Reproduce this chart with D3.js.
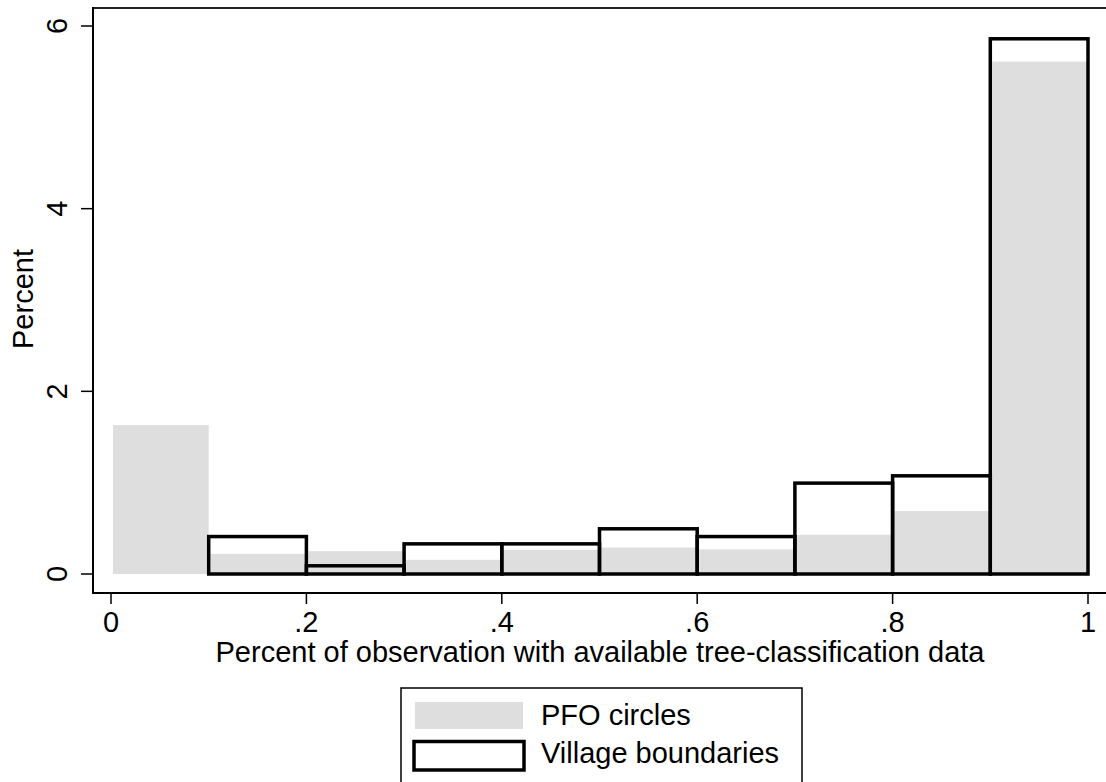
<!DOCTYPE html>
<html>
<head>
<meta charset="utf-8">
<script src="https://cdn.jsdelivr.net/npm/d3@7"></script>
<style>
  html, body { margin: 0; padding: 0; background: #fff; }
  svg { display: block; }
  text { font-family: "Liberation Sans", Arial, Helvetica, sans-serif; fill: #000; }
</style>
</head>
<body>
<svg id="chart" width="1106" height="782"></svg>
<script>
// ---- data ----
const binStarts = [0, 0.1, 0.2, 0.3, 0.4, 0.5, 0.6, 0.7, 0.8, 0.9];
const binWidth = 0.1;
const pfoCircles = [1.63, 0.22, 0.25, 0.155, 0.265, 0.29, 0.27, 0.43, 0.69, 5.61];
const villageBoundaries = [0, 0.41, 0.09, 0.33, 0.33, 0.495, 0.41, 0.995, 1.075, 5.86];
const xTicks = [0, 0.2, 0.4, 0.6, 0.8, 1];
const xTickLabels = ["0", ".2", ".4", ".6", ".8", "1"];
const yTicks = [0, 2, 4, 6];
const yTickLabels = ["0", "2", "4", "6"];
const seriesNames = ["PFO circles", "Village boundaries"];
const xTitle = "Percent of observation with available tree-classification data";
const yTitle = "Percent";

// ---- layout ----
const svg = d3.select("#chart");
const FS = 29;
const frame = { left: 93, top: 8, right: 1106, bottom: 593 };
const x = d3.scaleLinear().domain([0, 1]).range([111, 1088]);
const y = d3.scaleLinear().domain([0, 6]).range([574, 26]);
const grey = "#dedede";

// PFO bars (filled grey)
svg.append("g").selectAll("rect")
  .data(binStarts.map((b, i) => ({ x0: b, v: pfoCircles[i] })))
  .join("rect")
  .attr("x", d => x(d.x0) + 2)
  .attr("width", d => x(d.x0 + binWidth) - x(d.x0) - 2)
  .attr("y", d => y(d.v))
  .attr("height", d => y(0) - y(d.v))
  .attr("fill", grey);

// Village bars (outline only)
svg.append("g").selectAll("rect")
  .data(binStarts.map((b, i) => ({ x0: b, v: villageBoundaries[i] })).filter(d => d.v > 0))
  .join("rect")
  .attr("x", d => x(d.x0))
  .attr("width", d => x(d.x0 + binWidth) - x(d.x0))
  .attr("y", d => y(d.v))
  .attr("height", d => y(0) - y(d.v))
  .attr("fill", "none")
  .attr("stroke", "#000")
  .attr("stroke-width", 3.5);

// frame lines
svg.append("line").attr("x1", frame.left).attr("x2", frame.right)
  .attr("y1", frame.top).attr("y2", frame.top)
  .attr("stroke", "#222").attr("stroke-width", 2);
svg.append("line").attr("x1", frame.left).attr("x2", frame.left)
  .attr("y1", frame.top - 1).attr("y2", frame.bottom + 1)
  .attr("stroke", "#000").attr("stroke-width", 2);
svg.append("line").attr("x1", frame.left - 1).attr("x2", frame.right)
  .attr("y1", frame.bottom).attr("y2", frame.bottom)
  .attr("stroke", "#000").attr("stroke-width", 2);

// y axis ticks + labels
const yg = svg.append("g");
yTicks.forEach((t, i) => {
  yg.append("line").attr("x1", 81).attr("x2", frame.left)
    .attr("y1", y(t)).attr("y2", y(t)).attr("stroke", "#000").attr("stroke-width", 1.5);
  yg.append("text")
    .attr("transform", `translate(67,${y(t)}) rotate(-90)`)
    .attr("text-anchor", "middle")
    .attr("font-size", FS)
    .text(yTickLabels[i]);
});

// x axis ticks + labels
const xg = svg.append("g");
xTicks.forEach((t, i) => {
  xg.append("line").attr("x1", x(t)).attr("x2", x(t))
    .attr("y1", frame.bottom).attr("y2", 604).attr("stroke", "#000").attr("stroke-width", 1.5);
  xg.append("text")
    .attr("x", x(t)).attr("y", 632)
    .attr("text-anchor", "middle")
    .attr("font-size", FS)
    .text(xTickLabels[i]);
});

// axis titles
svg.append("text")
  .attr("x", 600).attr("y", 662)
  .attr("text-anchor", "middle")
  .attr("font-size", FS)
  .text(xTitle);
svg.append("text")
  .attr("transform", `translate(33,299) rotate(-90)`)
  .attr("text-anchor", "middle")
  .attr("font-size", FS)
  .text(yTitle);

// legend
const lg = svg.append("g");
lg.append("rect").attr("x", 401).attr("y", 688).attr("width", 401).attr("height", 110)
  .attr("fill", "#fff").attr("stroke", "#000").attr("stroke-width", 1.5);
lg.append("rect").attr("x", 415).attr("y", 702).attr("width", 108).attr("height", 27)
  .attr("fill", grey);
lg.append("rect").attr("x", 414).attr("y", 741.5).attr("width", 110).attr("height", 28.5)
  .attr("fill", "none").attr("stroke", "#000").attr("stroke-width", 3.5);
lg.append("text").attr("x", 541).attr("y", 725).attr("font-size", FS).text(seriesNames[0]);
lg.append("text").attr("x", 541).attr("y", 763).attr("font-size", FS).text(seriesNames[1]);
</script>
</body>
</html>
